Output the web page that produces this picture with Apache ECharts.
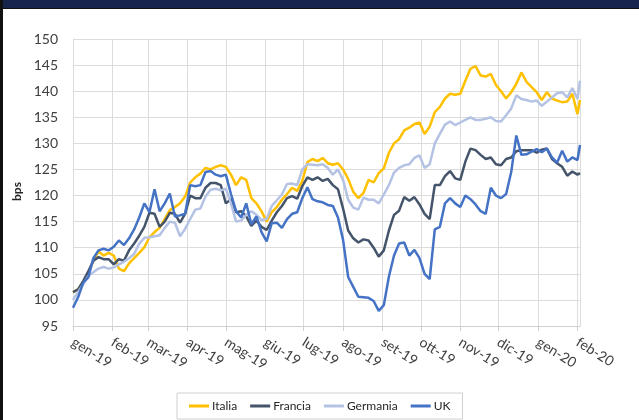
<!DOCTYPE html>
<html>
<head>
<meta charset="utf-8">
<script src="https://cdn.jsdelivr.net/npm/echarts@6/dist/echarts.min.js"></script>
<style>
  html, body { margin: 0; padding: 0; background: #fff; }
  #chart { width: 639px; height: 420px; }
</style>
</head>
<body>
<div id="chart"></div>
<script>
// mesi in italiano per le etichette dell'asse x
const mesi = ["gen", "feb", "mar", "apr", "mag", "giu", "lug", "ago", "set", "ott", "nov", "dic"];

// una osservazione ogni 4 giorni dal 1 gen 2019, ultima il 3 feb 2020
const dates = [];
for (let i = 0; i < 100; i++) dates.push(new Date(2019, 0, 1 + 4 * i).getTime());
dates.push(new Date(2020, 1, 3).getTime());

const italia = [101.5,102,103.5,105,107.5,109.3,108.5,109,108.5,106,
  105.5,107,108,109,110.1,112,113,113.8,115.5,117.2,
  117.8,118.5,119.8,122.5,123.5,124.2,125.3,125,125.5,125.8,
  125.5,124,122,123.5,123,119.5,118.5,117,115,116.8,
  117.8,119.2,120.3,121.5,120.9,122.8,126.4,127,126.6,127.2,
  126.2,125.9,126.2,125,123.2,120.7,119.5,120.5,123,122.5,
  124.3,125.2,128.2,130,130.8,132.5,133,133.7,134,131.8,
  133.2,136,137,138.6,139.5,139.3,139.5,142,144.3,144.8,
  143,142.8,143.3,141.2,140,138.6,139.8,141.4,143.6,141.8,
  140.8,139.8,138.3,139.8,138.6,138.2,137.9,138,139.5,135.6,
  138.3];

const francia = [101.5,102,103.6,105.5,107.5,108.2,107.8,107.8,106.8,107.8,
  107.5,109.5,110.8,112.3,114,116.7,116.5,114,115,116.7,
  116.5,114.8,116.5,120,119.5,119.5,121.5,122.4,122.4,122,
  118.5,119.3,116.8,117,116,114.2,115.2,114,113.4,115.2,
  116.8,118,119.5,119.9,119.4,121.8,123.5,123,123.5,122.8,
  123.2,122,121.2,117.5,113.3,111.8,111,111.6,111.4,110,
  108.3,109.5,113.3,116.3,117.1,119.7,119,119.7,118.3,116.5,
  115.5,122,122,123.7,124.7,123.3,123,126.5,129,128.7,
  127.8,127,127.3,126,125.8,127,127.3,128.5,128.7,128.7,
  128.7,128.2,128.8,129,127,126.2,125.5,123.8,124.6,124,
  124.3];

const germania = [100,101.5,103,104.6,105.3,106,106.3,106,106.2,106.8,
  107.3,108,108.8,110.8,111.9,112,112.2,112.4,113.8,115,
  114.8,112.2,113.6,115.5,117.3,117.5,119.8,121.1,121.3,121,
  121.3,118.5,115,115.2,116.3,117,116.3,115.3,115.5,118,
  119.1,120.2,122.2,122.3,122,125,126,125.9,125.8,126,
  125.3,124,125,123,119.2,117.7,117.3,119.6,119.2,119.2,
  118.5,120.2,122,124.4,125.3,125.8,126,127.2,127.7,125.3,
  126,130,131.8,133.6,134.2,133.5,134,134.5,135,134.5,
  134.5,134.7,135,134.3,134.2,135.4,136.7,139.2,138.5,138.3,
  138,138.2,137.2,138,138.8,139.6,139.8,138.8,140.6,138.5,
  142];

const uk = [98.5,100.5,103.3,104.3,108,109.5,109.8,109.5,110.2,111.4,
  110.5,111.8,113.5,115.8,118.5,116.8,121.2,117,118.5,120.4,
  116,116.2,116.5,122,121.8,122,124.5,124.7,124,123.7,
  124,120.3,117,115.8,118.5,114.5,116,113,111.2,114.7,
  114.8,113.8,115.5,116.5,116.8,119.5,121.6,119.3,118.9,118.7,
  118.2,118,115.8,111.5,104.4,102.5,100.6,100.5,100.4,99.8,
  97.9,99,104.5,108.5,110.8,111,108.5,109.6,108,105,
  104,113.5,114,118.5,119.5,118.5,117.8,120,119.3,118.3,
  117,116.5,121.5,120,119.5,120.3,124.5,131.5,127.8,127.9,
  128.4,128.9,128.3,129,127.3,126.3,128.6,126.5,127.3,126.8,
  129.7];

const serie = [
  { name: "Italia", values: italia, color: "#FFC000" },
  { name: "Francia", values: francia, color: "#44546A" },
  { name: "Germania", values: germania, color: "#B4C2E4" },
  { name: "UK", values: uk, color: "#4472C4" },
];

var myChart = echarts.init(document.getElementById("chart"));

let option = {
  animation: false,
  backgroundColor: "#fff",
  textStyle: { fontFamily: "Lato", color: "#404040" },
  grid: { left: 73, right: 59, top: 39, bottom: 94 },
  graphic: [
    { type: "rect", shape: { x: 0, y: 0, width: 639, height: 8 }, style: { fill: "#17244b" } },
    { type: "rect", shape: { x: 0, y: 8, width: 639, height: 1 }, style: { fill: "#111" } },
    { type: "rect", shape: { x: 0, y: 0, width: 3, height: 420 }, style: { fill: "#111" } },
  ],
  legend: {
    left: 177,
    top: 393,
    padding: [7, 12],
    itemGap: 13,
    itemWidth: 20,
    itemHeight: 3,
    icon: "rect",
    borderColor: "#d0d0d0",
    borderWidth: 1,
    textStyle: { fontFamily: "Lato", fontSize: 12, color: "#262626", padding: [2, 0, 0, -2] },
    data: serie.map((s) => s.name),
  },
  xAxis: {
    type: "time",
    min: new Date(2019, 0, 1).getTime(),
    max: new Date(2020, 1, 3).getTime(),
    splitNumber: 14,
    minInterval: 28 * 86400000,
    maxInterval: 31 * 86400000,
    axisLine: { lineStyle: { color: "#d0d0d0" } },
    axisTick: { show: true, length: 5, lineStyle: { color: "#d0d0d0" } },
    splitLine: { show: true, lineStyle: { color: "#dcdcdc" } },
    axisLabel: {
      rotate: -32,
      margin: 15,
      fontFamily: "Lato",
      fontSize: 14,
      color: "#404040",
      showMinLabel: true,
      formatter: function (value) {
        const d = new Date(value);
        return mesi[d.getMonth()] + "-" + String(d.getFullYear()).slice(2);
      },
    },
  },
  yAxis: {
    type: "value",
    min: 95,
    max: 150,
    interval: 5,
    name: "bps",
    nameLocation: "middle",
    nameGap: 46,
    nameTextStyle: { fontFamily: "Lato", fontSize: 12, fontWeight: "bold", color: "#262626", padding: [0, 18, 0, 0] },
    axisLine: { show: true, lineStyle: { color: "#dcdcdc" } },
    axisTick: { show: false },
    splitLine: { lineStyle: { color: "#dcdcdc" } },
    axisLabel: { margin: 15, fontFamily: "Lato", fontSize: 14, color: "#404040" },
  },
  series: serie.map((s) => ({
    name: s.name,
    type: "line",
    showSymbol: false,
    color: s.color,
    lineStyle: { width: 2.5, color: s.color },
    data: dates.map((d, i) => [d, s.values[i]]),
  })),
};
myChart.setOption(option);
</script>
</body>
</html>
